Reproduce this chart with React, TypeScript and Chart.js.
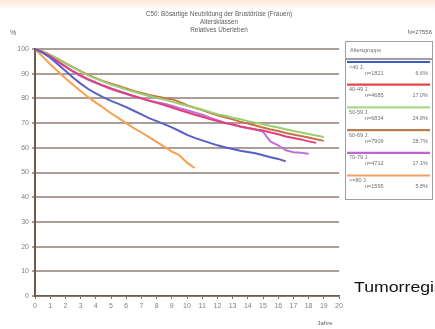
import React, { useEffect, useRef } from "react";
import { Chart, registerables } from "chart.js";

Chart.register(...registerables);

const titleLines = [
  "C50: Bösartige Neubildung der Brustdrüse (Frauen)",
  "Altersklassen",
  "Relatives Überleben",
];
const totalLabel = "N=27556";
const yUnit = "%";
const xUnit = "Jahre";
const sourceLabel = "Tumorregister München";
const legendTitle = "Altersgruppe";

const years = [
  0, 0.5, 1, 1.5, 2, 2.5, 3, 3.5, 4, 4.5, 5, 5.5, 6, 6.5, 7, 7.5, 8, 8.5, 9, 9.5,
  10, 10.5, 11, 11.5, 12, 12.5, 13, 13.5, 14, 14.5, 15, 15.5, 16, 16.5, 17, 17.5,
  18, 18.5, 19,
];

const groupLabels = ["<40 J.", "40-49 J.", "50-59 J.", "60-69 J.", "70-79 J.", ">=80 J."];
const groupCounts = ["n=1821", "n=4685", "n=6834", "n=7909", "n=4712", "n=1595"];
const groupShares = ["6.6%", "17.0%", "24.8%", "28.7%", "17.1%", "5.8%"];
const groupColors = ["#5a5ec8", "#e0407c", "#98d070", "#cc7040", "#c070d8", "#f4a050"];
const legendColors = ["#3a5cc8", "#e04848", "#a8d888", "#b88050", "#b868d0", "#f4a060"];

const under40 = [
  100, 98.5, 96.5, 93.8, 91.2, 88.5, 86, 83.8, 82, 80.4, 79, 77.8, 76.5, 75, 73.5, 72,
  70.8, 69.6, 68.3, 66.8, 65.2, 64, 63, 62, 61, 60.2, 59.5, 58.8, 58.3, 57.8, 57, 56.2,
  55.5, 54.5,
];
const age40to49 = [
  100, 98.7, 97, 95, 93, 91, 89.3, 87.8, 86.5, 85.2, 84, 83, 82, 81, 80, 79, 78.2, 77.3,
  76.3, 75.3, 74.4, 73.4, 72.6, 71.6, 70.8, 70, 69.4, 68.6, 68, 67.4, 67, 66.2, 65.5,
  64.6, 64, 63.4, 62.6, 62,
];
const age50to59 = [
  100, 99, 97.5, 96, 94.2, 92.5, 90.8, 89.3, 88, 86.8, 85.6, 84.6, 83.6, 82.7, 81.8, 81,
  80.2, 79.5, 78.7, 77.8, 77, 76.2, 75.4, 74.5, 73.6, 73, 72.2, 71.6, 70.8, 70.2, 69.5,
  68.8, 68.2, 67.5, 66.8, 66.2, 65.6, 65, 64.4,
];
const age60to69 = [
  100, 99, 97.6, 96, 94.3, 92.7, 91, 89.5, 88.2, 87, 86, 85, 84, 83, 82.2, 81.4, 80.8,
  80.2, 79.7, 78.6, 77.3, 76.2, 75.3, 74.2, 73.2, 72.4, 71.5, 70.6, 69.8, 69, 68.2, 67.4,
  66.8, 66, 65.4, 64.8, 64.2, 63.5, 62.8,
];
const age70to79 = [
  100, 98.5, 96.8, 94.8, 92.8, 90.8, 89, 87.5, 86.2, 85, 83.8, 82.8, 81.8, 80.9, 80,
  79.2, 78.5, 77.8, 77, 76, 75.2, 74.3, 73.4, 72.2, 71.2, 70.2, 69.4, 68.6, 68, 67.5,
  66.5, 62.5, 61, 59, 58.2, 58, 57.6,
];
const age80plus = [
  100, 97, 93.8, 91, 88.2, 85.5, 83, 80.5, 78.3, 76.2, 74, 72, 70, 68, 66.2, 64.3, 62.4,
  60.5, 58.5, 57, 54, 51.8,
];

const seriesValues = [under40, age40to49, age50to59, age60to69, age70to79, age80plus];

const overlayPlugin = {
  id: "overlay",
  beforeDraw(chart: any) {
    const ctx = chart.ctx;
    ctx.save();
    ctx.fillStyle = "#ffffff";
    ctx.fillRect(0, 0, chart.width, chart.height);
    const g = ctx.createLinearGradient(0, 0, 0, 10);
    g.addColorStop(0, "#fbe9d6");
    g.addColorStop(1, "#ffffff");
    ctx.fillStyle = g;
    ctx.fillRect(0, 0, chart.width, 10);
    ctx.restore();
  },
  afterDraw(chart: any) {
    const ctx = chart.ctx;
    ctx.save();
    ctx.fillStyle = "#606060";
    ctx.textBaseline = "middle";
    ctx.font = "6.4px 'Liberation Sans', Arial, sans-serif";
    ctx.textAlign = "center";
    titleLines.forEach((t, i) => ctx.fillText(t, 219, 14 + i * 8));
    ctx.font = "7px 'Liberation Sans', Arial, sans-serif";
    ctx.textAlign = "left";
    ctx.fillText(yUnit, 10, 33);
    ctx.textAlign = "right";
    ctx.font = "6px 'Liberation Sans', Arial, sans-serif";
    ctx.fillText(totalLabel, 432, 32);
    ctx.textAlign = "center";
    ctx.font = "6px 'Liberation Sans', Arial, sans-serif";
    ctx.fillText(xUnit, 325, 323);

    // legend box
    const lx = 345;
    const lw = 87;
    ctx.strokeStyle = "#a0a0a0";
    ctx.lineWidth = 1;
    ctx.strokeRect(lx + 0.5, 41.5, lw, 17);
    ctx.strokeRect(lx + 0.5, 59.5, lw, 140);
    ctx.textAlign = "left";
    ctx.fillStyle = "#707070";
    ctx.font = "5.5px 'Liberation Sans', Arial, sans-serif";
    ctx.fillText(legendTitle, lx + 5, 50);
    groupLabels.forEach((lab, i) => {
      const y = 62 + i * 22.7;
      ctx.strokeStyle = legendColors[i];
      ctx.lineWidth = 2.2;
      ctx.beginPath();
      ctx.moveTo(lx + 2, y);
      ctx.lineTo(lx + lw - 2, y);
      ctx.stroke();
      ctx.fillStyle = "#707070";
      ctx.textAlign = "left";
      ctx.fillText(lab, lx + 4, y + 5);
      ctx.fillText(groupCounts[i], lx + 20, y + 11);
      ctx.textAlign = "right";
      ctx.fillText(groupShares[i], lx + lw - 4, y + 11);
    });

    ctx.fillStyle = "#111111";
    ctx.textAlign = "left";
    ctx.font = "15px 'Liberation Sans', Arial, sans-serif";
    ctx.translate(354, 288);
    ctx.scale(1.18, 1);
    ctx.fillText(sourceLabel, 0, 0);
    ctx.restore();
  },
};

export default function App() {
  const ref = useRef<HTMLCanvasElement>(null);
  useEffect(() => {
    if (!ref.current) return;
    const datasets = seriesValues.map((vals, i) => ({
      label: groupLabels[i],
      data: vals.map((v, j) => ({ x: years[j], y: v })),
      borderColor: groupColors[i],
      backgroundColor: groupColors[i],
      borderWidth: 2,
      pointRadius: 0,
      tension: 0,
      fill: false,
    }));
    const chart = new Chart(ref.current, {
      type: "line",
      data: { datasets },
      plugins: [overlayPlugin],
      options: {
        animation: false,
        responsive: false,
        maintainAspectRatio: false,
        layout: { padding: { top: 49, right: 96, left: 0, bottom: 0 } },
        plugins: { legend: { display: false }, tooltip: { enabled: false }, title: { display: false } },
        scales: {
          x: {
            type: "linear",
            min: 0,
            max: 20,
            afterFit: (s: any) => {
              s.height = 33;
            },
            ticks: {
              stepSize: 1,
              color: "#808080",
              font: { size: 7, family: "'Liberation Sans', Arial, sans-serif" },
              padding: 3,
              maxRotation: 0,
              autoSkip: false,
            },
            grid: { drawOnChartArea: false, drawTicks: true, tickLength: 3, color: "#7a6a60", lineWidth: 1 },
            border: { display: true, color: "#6a5a50", width: 1.5 },
          },
          y: {
            min: 0,
            max: 100,
            afterFit: (s: any) => {
              s.width = 35;
            },
            ticks: {
              stepSize: 10,
              color: "#808080",
              font: { size: 7, family: "'Liberation Sans', Arial, sans-serif" },
              padding: 3,
            },
            grid: { color: "#ac9e96", lineWidth: 2, tickLength: 3 },
            border: { display: true, color: "#6a5a50", width: 2 },
          },
        },
      },
    });
    return () => chart.destroy();
  }, []);
  return (
    <div style={{ position: "fixed", left: 0, top: 0, width: 435, height: 329 }}>
      <canvas ref={ref} width={435} height={329} style={{ width: 435, height: 329 }} />
    </div>
  );
}
